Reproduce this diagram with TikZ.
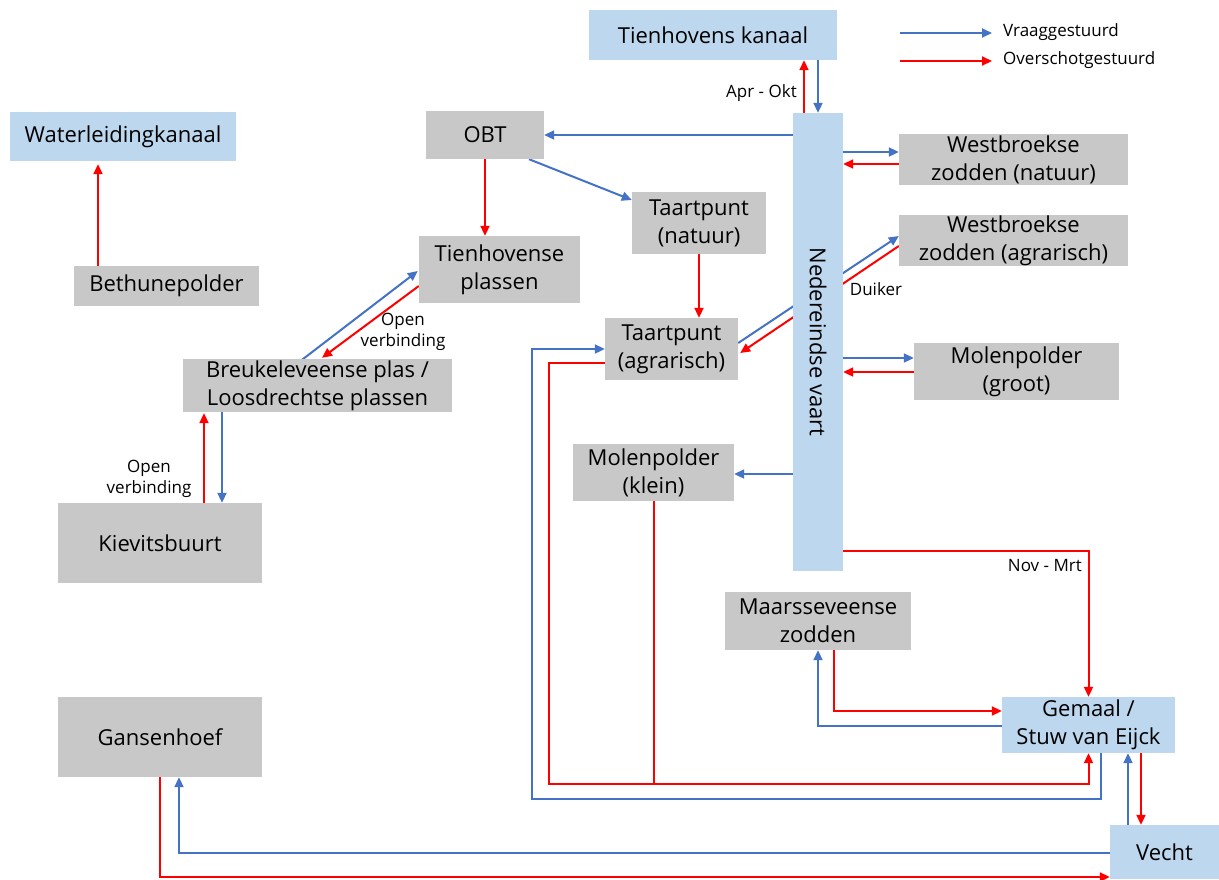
\documentclass[tikz,border=0pt]{standalone}
\usepackage{fontspec}
\setmainfont{Open Sans}
\usetikzlibrary{arrows.meta,calc,backgrounds}
\definecolor{boxgrijs}{HTML}{C8C8C8}
\definecolor{boxblauw}{HTML}{BDD7EE}
\definecolor{lijnblauw}{HTML}{4472C4}
\definecolor{lijnrood}{HTML}{FF0000}
\tikzset{
	vak/.style={inner sep=0pt, align=center, font=\fontsize{22}{28}\selectfont},
	grijs/.style={vak, fill=boxgrijs},
	blauw/.style={vak, fill=boxblauw},
	lbl/.style={inner sep=0pt, align=center, font=\fontsize{17}{21}\selectfont},
	vraag/.style={draw=lijnblauw, line width=2pt, -{Triangle[length=10pt,width=9pt]}},
	over/.style={draw=lijnrood, line width=2pt, -{Triangle[length=10pt,width=9pt]}},
}
\begin{document}
\begin{tikzpicture}[x=1pt,y=-1pt]
			\useasboundingbox (0,0) rectangle (1219,879);

			\node[blauw, minimum width=248pt, minimum height=50pt] at (713,35) (tk) {Tienhovens kanaal};
			\node[blauw, minimum width=226pt, minimum height=49pt] at (123,136.5) (wlk) {Waterleidingkanaal};
			\node[grijs, minimum width=185pt, minimum height=40pt] at (166.5,286) (bet) {Bethunepolder};
			\node[grijs, minimum width=269pt, minimum height=53pt] at (317.5,385.5) (breuk) {Breukeleveense plas /\\Loosdrechtse plassen};
			\node[grijs, minimum width=204pt, minimum height=80pt] at (160,543) (kiev) {Kievitsbuurt};
			\node[grijs, minimum width=161pt, minimum height=67pt] at (499.5,269.5) (tienh) {Tienhovense\\plassen};
			\node[grijs, minimum width=118pt, minimum height=48pt] at (485,135) (obt) {OBT};
			\node[grijs, minimum width=134pt, minimum height=62pt] at (699,223) (tpn) {Taartpunt\\(natuur)};
			\node[grijs, minimum width=133pt, minimum height=62pt] at (671.5,349) (tpa) {Taartpunt\\(agrarisch)};
			\node[blauw, minimum width=50pt, minimum height=458pt] at (818,342) (ned) {};
			\node[vak, rotate=-90] at (ned.center) (nedtxt) {Nedereindse vaart};
			\node[grijs, minimum width=229pt, minimum height=51pt] at (1013.5,159.5) (wzn) {Westbroekse\\zodden (natuur)};
			\node[grijs, minimum width=229pt, minimum height=51pt] at (1013.5,240.5) (wza) {Westbroekse\\zodden (agrarisch)};
			\node[grijs, minimum width=205pt, minimum height=57pt] at (1016.5,371.5) (mpg) {Molenpolder\\(groot)};
			\node[grijs, minimum width=161pt, minimum height=57pt] at (653.5,472.5) (mpk) {Molenpolder\\(klein)};
			\node[grijs, minimum width=186pt, minimum height=58pt] at (818,621) (maars) {Maarsseveense\\zodden};
			\node[blauw, minimum width=173pt, minimum height=56pt] at (1088.5,725) (gem) {Gemaal /\\Stuw van Eijck};
			\node[blauw, minimum width=109pt, minimum height=54pt] at (1164.5,852) (vecht) {Vecht};
			\node[grijs, minimum width=204pt, minimum height=80pt] at (160,737) (gans) {Gansenhoef};

			\node[lbl] at (149,479) (ov1) {Open\\verbinding};
			\node[lbl] at (403,332) (ov2) {Open\\verbinding};
			\node[lbl, anchor=east] at (797,93) (aprokt) {Apr - Okt};
			\node[lbl] at (876,289) (duiker) {Duiker};
			\node[lbl, anchor=east] at (1082,566) (novmrt) {Nov - Mrt};

			\node[lbl, anchor=west] at (1003,32) (lv) {Vraaggestuurd};
			\node[lbl, anchor=west] at (1003,60) (lo) {Overschotgestuurd};
			\coordinate (lv0) at (900,33);
			\coordinate (lo0) at (900,61);
			\draw[vraag] (lv0) -- ($(lv.west)+(-11,1)$);
			\draw[over] (lo0) -- ($(lo.west)+(-11,1)$);

			\begin{scope}[on background layer]
			\draw[over] ($(bet.north)+(-68.5,0)$) -- ($(wlk.south)+(-25,3)$);
			\draw[over] ($(kiev.north)+(44,0)$) -- ($(breuk.south)+(-113.5,1)$);
			\draw[vraag] ($(breuk.south)+(-95.5,0)$) -- ($(kiev.north)+(62,0)$);
			\draw[vraag] ($(breuk.north)+(-15.5,1)$) -- ($(tienh.west)+(-1,1.5)$);
			\draw[over] ($(tienh.west)+(0,16.5)$) -- ($(breuk.north)+(4.5,-1)$);

			\draw[over] (obt.south) -- (obt.south |- tienh.north);
			\draw[vraag] ($(obt.south)+(44,0)$) -- ($(tpn.west)+(0,-23)$);
			\draw[over] (tpn.south) -- (tpn.south |- tpa.north);
			\draw[vraag] (ned.west |- obt.east) -- (obt.east);

			\draw[over] ($(ned.north)+(-14,0)$) -- ($(tk.south)+(91,0)$);
			\draw[vraag] (tk.south -| ned.north) -- (ned.north);

			\draw[vraag] ($(ned.east |- wzn.west)+(0,-7.5)$) -- ($(wzn.west)+(0,-7.5)$);
			\draw[over] ($(wzn.west)+(0,4.5)$) -- ($(ned.east |- wzn.west)+(0,4.5)$);
			\draw[vraag] ($(tpa.east)+(0,-6)$) -- ($(wza.west)+(0,-4.5)$);
			\draw[over] ($(wza.west)+(0,5.5)$) -- ($(tpa.east)+(2,4)$);
			\draw[vraag] ($(ned.east |- mpg.west)+(0,-13.5)$) -- ($(mpg.west)+(0,-13.5)$);
			\draw[over] ($(mpg.west)+(0,0.5)$) -- ($(ned.east |- mpg.west)+(0,0.5)$);
			\draw[vraag] ($(ned.west |- mpk.east)+(0,1.5)$) -- ($(mpk.east)+(0,1.5)$);

			\draw[over] ($(ned.south east)+(0,-20)$) -| (gem.north);
			\draw[over] ($(maars.south)+(16,0)$) |- ($(gem.west)+(0,-14)$);
			\draw[vraag] ($(gem.west)+(0,1)$) -| (maars.south);

			\draw[over] ($(tpa.west)+(0,14)$) -- ++(-56,0) |- ($(gem.south)+(0,31)$) coordinate (rj) -- (gem.south);
			\draw[over, -] (mpk.south) -- (mpk.south |- rj);
			\draw[vraag] ($(gem.south)+(12.5,0)$) -- ++(0,46) -| ($(tpa.west)+(-73,0)$) -- (tpa.west);

			\draw[vraag] ($(vecht.north)+(-36.5,0)$) -- ($(gem.south)+(39.5,0)$);
			\draw[over] ($(gem.south)+(52.5,0)$) -- ($(vecht.north)+(-23.5,0)$);
			\draw[vraag] ($(vecht.west)+(0,1)$) -| ($(gans.south)+(19,0)$);
			\draw[over] (gans.south) |- ($(vecht.west)+(0,25)$);
			\end{scope}
		\end{tikzpicture}
\end{document}
